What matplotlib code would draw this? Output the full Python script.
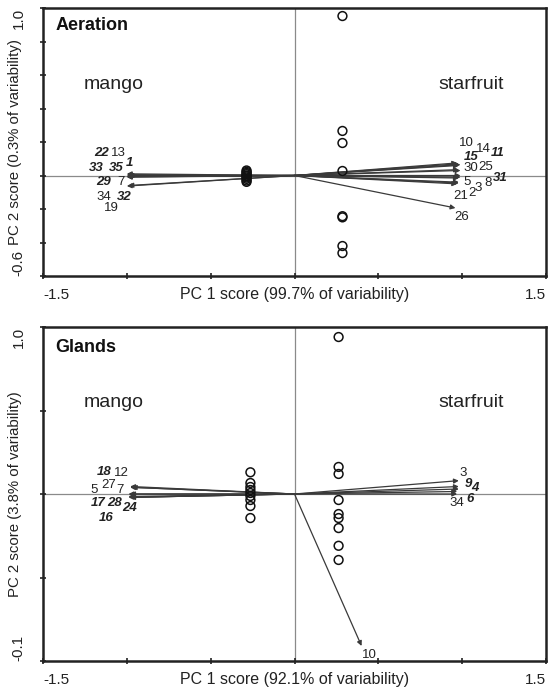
import matplotlib
matplotlib.use("Agg")
import matplotlib.pyplot as plt
from matplotlib.ticker import FixedLocator

plt.rcParams['font.family'] = ['Liberation Sans', 'DejaVu Sans']

# ---------------- Aeration panel data ----------------
aer_mango_x = [-0.286] * 10
aer_mango_y = [0.03, 0.022, 0.015, 0.008, 0.0, -0.005, -0.012, -0.02, -0.03, -0.038]
aer_star_x = [0.286] * 8
aer_star_y = [0.952, 0.266, 0.194, 0.027, -0.243, -0.250, -0.421, -0.463]

aer_vars = ['22', '13', '33', '35', '1', '29', '7', '34', '32', '19',
            '10', '14', '11', '15', '30', '25', '5', '31', '8', '3', '21', '2', '26']
aer_load_x = [-1.0, -1.0, -1.0, -1.0, -0.99, -1.0, -0.99, -1.0, -1.0, -1.0,
              0.97, 0.98, 0.99, 0.98, 0.98, 0.99, 0.98, 0.99, 0.99, 0.98, 0.97, 0.98, 0.96]
aer_load_y = [0.01, 0.005, 0.0, -0.005, 0.0, -0.063, -0.06, -0.01, -0.008, -0.005,
              0.075, 0.07, 0.065, 0.06, 0.035, 0.03, -0.015, 0.0, -0.01, -0.04, -0.05, -0.045, -0.194]
aer_lab_x = [-1.149, -1.048, -1.185, -1.065, -0.982, -1.137, -1.036, -1.137, -1.018, -1.095,
             1.024, 1.125, 1.214, 1.054, 1.054, 1.140, 1.030, 1.226, 1.155, 1.097, 0.992, 1.058, 1.0]
aer_lab_y = [0.134, 0.134, 0.045, 0.045, 0.075, -0.039, -0.039, -0.128, -0.128, -0.194,
             0.192, 0.160, 0.134, 0.112, 0.045, 0.051, -0.039, -0.015, -0.045, -0.072, -0.122, -0.104, -0.248]
aer_bold = ['22', '33', '35', '1', '29', '32', '15', '11', '31']

# ---------------- Glands panel data ----------------
gla_mango_x = [-0.263] * 9
gla_mango_y = [0.13, 0.066, 0.042, 0.024, 0.006, -0.012, -0.036, -0.072, -0.144]
gla_star_x = [0.263] * 9
gla_star_y = [0.94, 0.162, 0.12, -0.036, -0.12, -0.144, -0.204, -0.31, -0.395]

gla_vars = ['18', '12', '5', '27', '7', '17', '28', '24', '16',
            '3', '9', '4', '6', '34', '10']
gla_load_x = [-0.98, -0.98, -0.99, -0.98, -0.97, -0.99, -0.98, -0.98, -0.99,
              0.98, 0.98, 0.98, 0.97, 0.97, 0.40]
gla_load_y = [0.045, 0.04, 0.0, 0.0, 0.04, -0.015, -0.02, -0.02, -0.02,
              0.08, 0.045, 0.03, 0.015, 0.0, -0.91]
gla_lab_x = [-1.134, -1.033, -1.194, -1.110, -1.039, -1.170, -1.075, -0.985, -1.122,
             1.005, 1.035, 1.078, 1.045, 0.967, 0.448]
gla_lab_y = [0.132, 0.126, 0.024, 0.054, 0.024, -0.054, -0.054, -0.084, -0.144,
             0.128, 0.062, 0.036, -0.03, -0.054, -0.964]
gla_bold = ['18', '17', '28', '24', '16', '9', '4', '6']

panels = [
    dict(title='Aeration', mx=aer_mango_x, my=aer_mango_y, sx=aer_star_x, sy=aer_star_y,
         vars=aer_vars, lx=aer_load_x, ly=aer_load_y, tx=aer_lab_x, ty=aer_lab_y, bold=aer_bold,
         ylim=(-0.6, 1.0), yticks=[-0.6, 1.0], yticklabels=['-0.6', '1.0'],
         yminor=[-0.4, -0.2, 0.0, 0.2, 0.4, 0.6, 0.8],
         xlabel='PC 1 score (99.7% of variability)', ylabel='PC 2 score (0.3% of variability)',
         rect=[43/558, 1-276/690, 503/558, 268/690], grp_y=0.546),
    dict(title='Glands', mx=gla_mango_x, my=gla_mango_y, sx=gla_star_x, sy=gla_star_y,
         vars=gla_vars, lx=gla_load_x, ly=gla_load_y, tx=gla_lab_x, ty=gla_lab_y, bold=gla_bold,
         ylim=(-1.0, 1.0), yticks=[-1.0, 1.0], yticklabels=['-0.1', '1.0'],
         yminor=[-0.5, 0.0, 0.5],
         xlabel='PC 1 score (92.1% of variability)', ylabel='PC 2 score (3.8% of variability)',
         rect=[43/558, 1-661/690, 503/558, 334/690], grp_y=0.545),
]

fig = plt.figure(figsize=(5.58, 6.9), dpi=100)
line_col = '#3a3a3a'

for p in panels:
    ax = fig.add_axes(p['rect'])
    ax.set_xlim(-1.5, 1.5)
    ax.set_ylim(*p['ylim'])
    ax.axhline(0, color='#8a8a8a', lw=0.9, zorder=1)
    ax.axvline(0, color='#8a8a8a', lw=0.9, zorder=1)

    ax.scatter(p['mx'], p['my'], s=40, facecolors='none', edgecolors='#111111', linewidths=1.1, zorder=3)
    ax.scatter(p['sx'], p['sy'], s=40, facecolors='none', edgecolors='#111111', linewidths=1.1, zorder=3)

    for v, x, y in zip(p['vars'], p['lx'], p['ly']):
        ax.annotate('', xy=(x, y), xytext=(0, 0),
                    arrowprops=dict(arrowstyle='-|>', color=line_col, lw=0.9,
                                    mutation_scale=7, shrinkA=0, shrinkB=0), zorder=2)
    for v, x, y in zip(p['vars'], p['tx'], p['ty']):
        isb = v in p['bold']
        ax.text(x, y, v, ha='center', va='center', fontsize=9.5,
                fontweight='bold' if isb else 'normal',
                fontstyle='italic' if isb else 'normal', color='#222222', zorder=4)

    ax.text(0.025, 0.965, p['title'], transform=ax.transAxes, ha='left', va='top',
            fontsize=13, fontweight='bold', color='#111111')
    ax.text(-1.08, p['grp_y'], 'mango', ha='center', va='center', fontsize=14, color='#222222')
    ax.text(1.055, p['grp_y'], 'starfruit', ha='center', va='center', fontsize=14, color='#222222')

    for s in ax.spines.values():
        s.set_linewidth(1.8)
        s.set_color('#222222')

    ax.set_xticks([-1.5, 1.5])
    ax.set_xticklabels(['-1.5', '1.5'])
    ax.xaxis.set_minor_locator(FixedLocator([-1.0, -0.5, 0.0, 0.5, 1.0]))
    ax.set_yticks(p['yticks'])
    ax.set_yticklabels(p['yticklabels'])
    ax.yaxis.set_minor_locator(FixedLocator(p['yminor']))
    ax.tick_params(which='both', direction='inout', length=5, width=1.2, color='#222222')
    ax.tick_params(axis='x', labelsize=11, pad=6, colors='#222222')
    ax.tick_params(axis='y', labelsize=11, pad=10, colors='#222222')
    xl = ax.get_xticklabels()
    xl[0].set_ha('left')
    xl[1].set_ha('right')
    yl = ax.get_yticklabels()
    for t in yl:
        t.set_rotation(90)
    yl[0].set_va('bottom')
    yl[1].set_va('top')

    h_px = p['rect'][3] * 690
    ax.set_xlabel(p['xlabel'], fontsize=11.5, color='#222222')
    ax.xaxis.set_label_coords(0.5, -18.5 / h_px)
    ax.xaxis.label.set_va('center')
    ax.set_ylabel(p['ylabel'], fontsize=10.8, color='#222222')
    ax.yaxis.set_label_coords(-28 / 503, 0.5)
    ax.yaxis.label.set_va('center')

fig.savefig('out.png', dpi=100)
